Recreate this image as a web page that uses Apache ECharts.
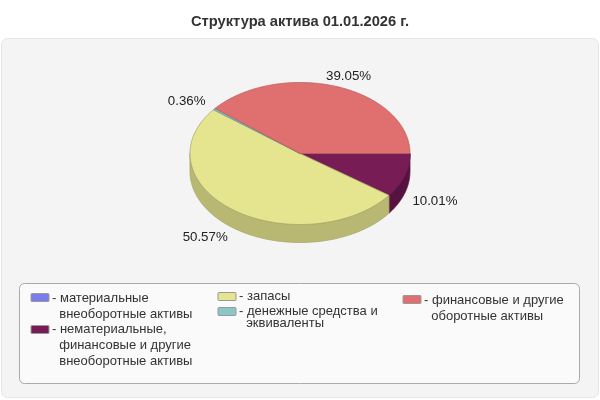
<!DOCTYPE html>
<html><head><meta charset="utf-8">
<style>html,body{margin:0;padding:0;background:#fff}#c{width:600px;height:400px}</style>
<script src="https://cdn.jsdelivr.net/npm/echarts@6/dist/echarts.min.js"></script>
</head><body><div id="c"></div>
<script>
var titleText = 'Структура актива 01.01.2026 г.';
var categories = [
  'материальные\nвнеоборотные активы',
  'нематериальные,\nфинансовые и другие\nвнеоборотные активы',
  'запасы',
  'денежные средства и\nэквиваленты',
  'финансовые и другие\nоборотные активы'
];
var values = [0, 10.01, 50.57, 0.36, 39.05];
var colors = ['#7b7bec', '#771c55', '#e6e58f', '#8ac6c6', '#e07070'];
var sideColors = ['#5c5cb1', '#561340', '#b9b872', '#679494', '#a85454'];
var edgeColors = ['#6a6acb', '#65184a', '#a5a468', '#5f9d9d', '#b85c5c'];

var FONT = '"Liberation Sans", Arial, sans-serif';
var CX = 300, CY = 153.5, RX = 110, RY = 71, DEPTH = 18;
var labelNudge = { 1: [-2, 4], 2: [-8, 0], 3: [-1, -1] };
var total = values.reduce(function (a, b) { return a + b; }, 0);
var starts = [];
values.reduce(function (s, v, i) { starts[i] = s; return s + v; }, 0);

function pt(deg, dy) {
  var r = deg * Math.PI / 180;
  return [CX + RX * Math.cos(r), CY + RY * Math.sin(r) + (dy || 0)];
}
function arc(a0, a1, dy) {
  var out = [], n = Math.max(2, Math.ceil((a1 - a0) * 2));
  for (var i = 0; i <= n; i++) out.push(pt(a0 + (a1 - a0) * i / n, dy));
  return out;
}
function renderSlice(idx) {
  return function (params, api) {
    var v = api.value(0);
    if (!v) return { type: 'group', children: [] };
    var a0 = starts[idx] / total * 360, a1 = (starts[idx] + v) / total * 360;
    var children = [];
    var w0 = Math.max(a0, 0), w1 = Math.min(a1, 180);
    if (w1 > w0) {
      children.push({
        type: 'polygon', z2: 1,
        shape: { points: arc(w0, w1, 0).concat(arc(w0, w1, DEPTH).reverse()) },
        style: { fill: sideColors[idx], stroke: edgeColors[idx], lineWidth: 0.8 }
      });
    }
    children.push({
      type: 'polygon', z2: 5,
      shape: { points: [[CX, CY]].concat(arc(a0, a1, 0)) },
      style: { fill: colors[idx], stroke: edgeColors[idx], lineWidth: 0.8 }
    });
    var mid = (a0 + a1) / 2, rad = mid * Math.PI / 180, p = pt(mid, Math.sin(rad) > 0 ? DEPTH : 0);
    var nudge = labelNudge[idx] || [0, 0];
    children.push({
      type: 'text', z2: 10,
      style: {
        x: p[0] + Math.cos(rad) * 34 + nudge[0], y: p[1] + Math.sin(rad) * 11 + nudge[1],
        text: v.toFixed(2) + '%', align: 'center', verticalAlign: 'middle',
        font: '13.3px ' + FONT, fill: '#222'
      }
    });
    return { type: 'group', children: children };
  };
}
function legendIcon(h, off) {
  var a = off, b = off + 8;
  return 'path://M0 0L0 0M1 ' + a + 'H17Q18 ' + a + ' 18 ' + (a + 1) + 'V' + (b - 1) + 'Q18 ' + b + ' 17 ' + b +
    'H1Q0 ' + b + ' 0 ' + (b - 1) + 'V' + (a + 1) + 'Q0 ' + a + ' 1 ' + a + 'ZM0 ' + h + 'L0 ' + h;
}
function legend(i, left, top, lineH, off) {
  var lines = categories[i].split('\n').length, h = lines * lineH;
  return {
    left: left, top: top, padding: 0, orient: 'vertical', selectedMode: false,
    itemWidth: 18, itemHeight: h,
    data: [{ name: categories[i], icon: legendIcon(h, off),
      itemStyle: { color: colors[i], borderColor: '#999', borderWidth: 1 } }],
    formatter: function (n) { return '- ' + n.split('\n').join('\n  '); },
    textStyle: { fontFamily: FONT, fontSize: 13, color: '#333', lineHeight: lineH, padding: [0, 0, 0, -2] }
  };
}
var chart = echarts.init(document.getElementById('c'), null, { renderer: 'canvas' });
chart.setOption({
  animation: false,
  backgroundColor: '#fff',
  title: { text: titleText, left: 'center', top: 14, padding: 0,
    textStyle: { fontFamily: FONT, fontSize: 14.7, fontWeight: 'bold', color: '#333' } },
  graphic: [
    { type: 'rect', z: -10, shape: { x: 1.5, y: 38.5, width: 597, height: 359, r: 6 },
      style: { fill: '#f4f4f4', stroke: '#e6e6e6', lineWidth: 1 } },
    { type: 'rect', z: -9, shape: { x: 19.5, y: 283.5, width: 560, height: 100, r: 5 },
      style: { fill: '#fafafa', stroke: '#aaa', lineWidth: 1 } }
  ],
  legend: [
    legend(0, 30.5, 290, 16, 3),
    legend(1, 30.5, 321, 16, 4),
    legend(2, 217.5, 288, 16, 4),
    legend(3, 217.5, 305, 12, 2),
    legend(4, 402.5, 292, 16, 3)
  ],
  series: values.map(function (v, i) {
    return {
      type: 'custom', name: categories[i], coordinateSystem: 'none',
      itemStyle: { color: colors[i] }, silent: true,
      data: [[v]], renderItem: renderSlice(i)
    };
  })
});
</script></body></html>
